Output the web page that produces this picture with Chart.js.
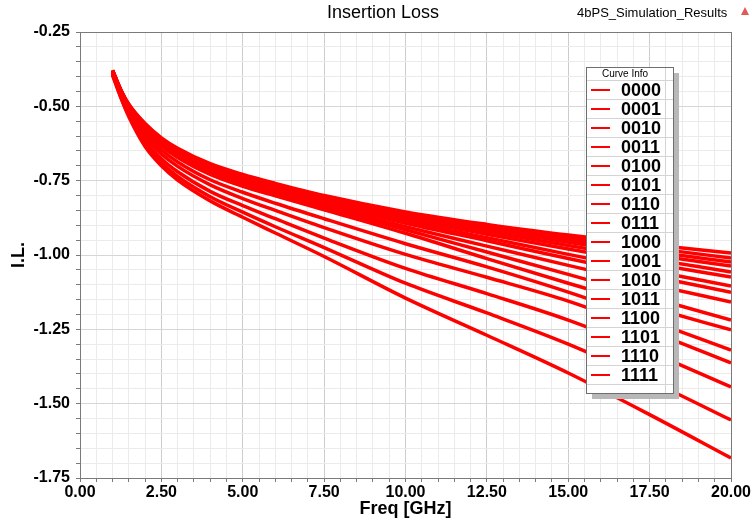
<!DOCTYPE html>
<html>
<head>
<meta charset="utf-8">
<script src="https://cdn.jsdelivr.net/npm/chart.js@4/dist/chart.umd.min.js"></script>
<style>
  html, body { margin: 0; padding: 0; background: #fff; }
  #il-chart { display: block; }
</style>
</head>
<body>
<canvas id="il-chart" width="754" height="523"></canvas>
<script>
// frequency sweep points (GHz)
var freq = [1, 1.25, 1.5, 2, 2.5, 3, 4, 5, 6, 7.5, 10, 12.5, 15, 17.5, 20];

// phase states of the 4 bit phase shifter
var states = ["0000", "0001", "0010", "0011", "0100", "0101", "0110", "0111",
              "1000", "1001", "1010", "1011", "1100", "1101", "1110", "1111"];

// insertion loss (dB) per state
var il0000 = [-0.378,-0.443,-0.493,-0.558,-0.606,-0.641,-0.693,-0.729,-0.759,-0.800,-0.855,-0.897,-0.933,-0.965,-0.993];
var il0001 = [-0.379,-0.444,-0.494,-0.560,-0.609,-0.644,-0.697,-0.733,-0.763,-0.802,-0.859,-0.902,-0.940,-0.976,-1.010];
var il0010 = [-0.379,-0.445,-0.496,-0.563,-0.612,-0.647,-0.701,-0.737,-0.766,-0.805,-0.863,-0.907,-0.948,-0.987,-1.024];
var il0011 = [-0.380,-0.445,-0.497,-0.565,-0.614,-0.651,-0.704,-0.741,-0.770,-0.809,-0.866,-0.913,-0.957,-0.998,-1.037];
var il0100 = [-0.380,-0.446,-0.498,-0.566,-0.616,-0.653,-0.707,-0.745,-0.774,-0.813,-0.872,-0.921,-0.968,-1.013,-1.057];
var il0101 = [-0.380,-0.447,-0.499,-0.569,-0.619,-0.656,-0.711,-0.749,-0.778,-0.818,-0.878,-0.930,-0.980,-1.028,-1.074];
var il0110 = [-0.381,-0.448,-0.500,-0.571,-0.622,-0.659,-0.714,-0.753,-0.782,-0.823,-0.886,-0.942,-0.998,-1.052,-1.104];
var il0111 = [-0.381,-0.448,-0.501,-0.573,-0.625,-0.662,-0.718,-0.757,-0.786,-0.828,-0.893,-0.952,-1.012,-1.070,-1.125];
var il1000 = [-0.382,-0.449,-0.503,-0.576,-0.628,-0.666,-0.722,-0.761,-0.791,-0.835,-0.905,-0.970,-1.035,-1.098,-1.158];
var il1001 = [-0.382,-0.450,-0.504,-0.578,-0.630,-0.669,-0.726,-0.765,-0.796,-0.841,-0.915,-0.990,-1.065,-1.142,-1.219];
var il1010 = [-0.383,-0.451,-0.505,-0.580,-0.633,-0.672,-0.729,-0.769,-0.801,-0.848,-0.927,-1.012,-1.095,-1.175,-1.252];
var il1011 = [-0.385,-0.455,-0.511,-0.591,-0.646,-0.687,-0.747,-0.789,-0.826,-0.878,-0.962,-1.040,-1.125,-1.220,-1.320];
var il1100 = [-0.388,-0.458,-0.517,-0.602,-0.660,-0.702,-0.764,-0.810,-0.850,-0.908,-0.998,-1.075,-1.155,-1.255,-1.363];
var il1101 = [-0.391,-0.463,-0.524,-0.615,-0.676,-0.720,-0.786,-0.834,-0.878,-0.943,-1.045,-1.130,-1.219,-1.326,-1.444];
var il1110 = [-0.393,-0.467,-0.530,-0.627,-0.690,-0.736,-0.804,-0.856,-0.905,-0.975,-1.095,-1.195,-1.300,-1.422,-1.555];
var il1111 = [-0.395,-0.470,-0.535,-0.635,-0.700,-0.748,-0.818,-0.873,-0.926,-1.005,-1.145,-1.270,-1.397,-1.537,-1.683];

var curves = [il0000, il0001, il0010, il0011, il0100, il0101, il0110, il0111,
              il1000, il1001, il1010, il1011, il1100, il1101, il1110, il1111];

var datasets = states.map(function(name, i) {
  return {
    label: name,
    data: freq.map(function(f, j) { return { x: f, y: curves[i][j] }; }),
    borderColor: "#ff0000",
    backgroundColor: "#ff0000",
    borderWidth: 3.5,
    pointRadius: 0,
    cubicInterpolationMode: "monotone",
    fill: false
  };
});

function onStep(v, step) {
  var r = v / step;
  return Math.abs(r - Math.round(r)) < 1e-6;
}

// frame, legend box and header texts, drawn by hand like the HFSS plot
var hfssDecor = {
  id: "hfssDecor",
  afterDatasetsDraw: function(chart) {
    var c = chart.ctx, a = chart.chartArea;
    c.save();
    c.strokeStyle = "#7a7a7a";
    c.lineWidth = 1;
    c.strokeRect(Math.round(a.left) + 0.5, Math.round(a.top) + 0.5,
                 Math.round(a.right - a.left), Math.round(a.bottom - a.top));

    // curve info box
    var bx = 586, by = 67, bw = 87, bh = 326, head = 13, row = 19;
    c.fillStyle = "#b8b8b8";
    c.fillRect(bx + 6, by + 6, bw, bh);
    c.fillStyle = "#ffffff";
    c.fillRect(bx, by, bw, bh);
    c.strokeStyle = "#d4d4d4";
    for (var k = 0; k <= chart.data.datasets.length; k++) {
      var ly = by + head + row * k + 0.5;
      c.beginPath(); c.moveTo(bx, ly); c.lineTo(bx + bw, ly); c.stroke();
    }
    c.beginPath(); c.moveTo(bx + 79.5, by); c.lineTo(bx + 79.5, by + bh); c.stroke();
    c.strokeStyle = "#6e6e6e";
    c.strokeRect(bx + 0.5, by + 0.5, bw, bh);

    c.fillStyle = "#000";
    c.font = '10px "Liberation Sans", Arial, sans-serif';
    c.textAlign = "center";
    c.textBaseline = "middle";
    c.fillText("Curve Info", bx + 39, by + 7);

    c.textAlign = "left";
    c.font = 'bold 18px "Liberation Sans", Arial, sans-serif';
    chart.data.datasets.forEach(function(ds, i) {
      var cy = by + head + row * i + 10;
      c.strokeStyle = ds.borderColor;
      c.lineWidth = 2;
      c.beginPath(); c.moveTo(bx + 5, cy); c.lineTo(bx + 24, cy); c.stroke();
      c.fillStyle = "#000";
      c.fillText(ds.label, bx + 35, cy + 1);
    });

    // titles
    c.font = '18px "Liberation Sans", Arial, sans-serif';
    c.textAlign = "center";
    c.fillText("Insertion Loss", 383, 13);
    c.font = '13px "Liberation Sans", Arial, sans-serif';
    c.textAlign = "left";
    c.fillText("4bPS_Simulation_Results", 577, 13);
    c.fillStyle = "#e05a5a";
    c.beginPath(); c.moveTo(745, 7); c.lineTo(749, 15); c.lineTo(741, 15); c.closePath(); c.fill();
    c.restore();
  }
};

new Chart(document.getElementById("il-chart"), {
  type: "line",
  data: { datasets: datasets },
  plugins: [hfssDecor],
  options: {
    responsive: false,
    animation: false,
    layout: { padding: { top: 32, right: 23, left: 0, bottom: 0 } },
    plugins: {
      legend: { display: false },
      tooltip: { enabled: false },
      title: { display: false }
    },
    scales: {
      x: {
        type: "linear",
        min: 0,
        max: 20,
        afterFit: function(scale) { scale.height = 45; },
        ticks: {
          stepSize: 0.5,
          autoSkip: false,
          maxRotation: 0,
          padding: 1,
          color: "#000",
          font: { family: '"Liberation Sans", Arial, sans-serif', size: 16, weight: "bold" },
          callback: function(v) { return onStep(v, 2.5) ? v.toFixed(2) : ""; }
        },
        grid: {
          color: function(ctx) { return ctx.tick && onStep(ctx.tick.value, 2.5) ? "#cccccc" : "#ebebeb"; },
          tickColor: "#7a7a7a",
          tickLength: 4
        },
        border: { color: "#7a7a7a" },
        title: {
          display: true,
          text: "Freq [GHz]",
          color: "#000",
          padding: { top: 0, bottom: 3 },
          font: { family: '"Liberation Sans", Arial, sans-serif', size: 18, weight: "bold" }
        }
      },
      y: {
        min: -1.75,
        max: -0.25,
        afterFit: function(scale) { scale.width = 80; },
        ticks: {
          stepSize: 0.05,
          autoSkip: false,
          padding: 6,
          color: "#000",
          font: { family: '"Liberation Sans", Arial, sans-serif', size: 16, weight: "bold" },
          callback: function(v) { return onStep(v, 0.25) ? v.toFixed(2) : ""; }
        },
        grid: {
          color: function(ctx) { return ctx.tick && onStep(ctx.tick.value, 0.25) ? "#d6d6d6" : "#ebebeb"; },
          tickColor: "#7a7a7a",
          tickLength: 4
        },
        border: { color: "#7a7a7a" },
        title: {
          display: true,
          text: "I.L.",
          color: "#000",
          padding: { top: 8, bottom: 0 },
          font: { family: '"Liberation Sans", Arial, sans-serif', size: 18, weight: "bold" }
        }
      }
    }
  }
});
</script>
</body>
</html>
